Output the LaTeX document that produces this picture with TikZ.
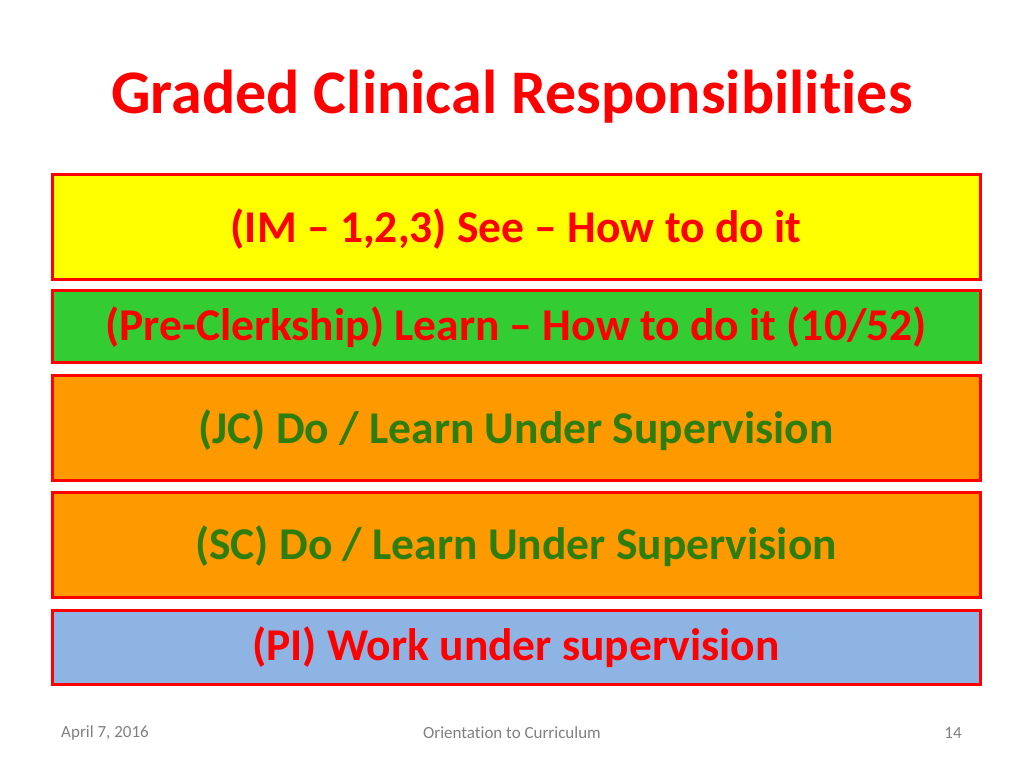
\documentclass[tikz,border=0pt]{standalone}
\usepackage{fontspec}
\setmainfont[Ligatures=NoCommon]{Carlito}
\begin{document}
\begin{tikzpicture}[x=1pt,y=-1pt,
  band/.style={draw=red,line width=3pt},
  btext/.style={font=\bfseries\fontsize{45.5}{50}\selectfont,anchor=center},
  foot/.style={text=gray,font=\fontsize{17}{19}\selectfont}]
\useasboundingbox (0,0) rectangle (1024,768);
\definecolor{ylw}{HTML}{FFFF00}
\definecolor{grn}{HTML}{33CC33}
\definecolor{org}{HTML}{FF9900}
\definecolor{blu}{HTML}{8EB4E3}
\definecolor{dgrn}{HTML}{2E7D0F}
\node (title) at (512,97) [text=red,font=\bfseries\fontsize{62}{70}\selectfont] {Graded Clinical Responsibilities};
\filldraw[band,fill=ylw] (52,174) rectangle (980,279);
\node (t1) at (516,229) [btext,text=red] {(IM -- 1,2,3) See -- How to do it};
\filldraw[band,fill=grn] (52,290) rectangle (980,362);
\node (t2) at (516,327) [btext,text=red] {(Pre-Clerkship) Learn -- How to do it (10/52)};
\filldraw[band,fill=org] (52,375) rectangle (980,480);
\node (t3) at (516,430) [btext,text=dgrn] {(JC) Do / Learn Under Supervision};
\filldraw[band,fill=org] (52,492) rectangle (980,597);
\node (t4) at (516,546) [btext,text=dgrn] {(SC) Do / Learn Under Supervision};
\filldraw[band,fill=blu] (52,610) rectangle (980,684);
\node (t5) at (516,647) [btext,text=red] {(PI) Work under supervision};
\node (f1) at (105,733) [foot] {April 7, 2016};
\node (f2) at (512,733) [foot] {Orientation to Curriculum};
\node (f3) at (953,733) [foot] {14};
\end{tikzpicture}
\end{document}
